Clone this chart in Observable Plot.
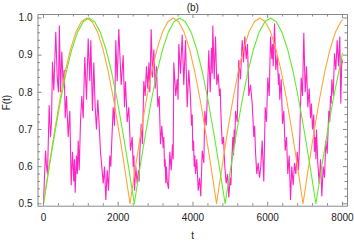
<!DOCTYPE html>
<html>
<head>
<meta charset="utf-8">
<script src="https://cdn.jsdelivr.net/npm/d3@7"></script>
<script src="https://cdn.jsdelivr.net/npm/@observablehq/plot@0.6"></script>
<style>
  html, body { margin: 0; padding: 0; background: #fff; }
  svg { display: block; }
</style>
</head>
<body>
<div id="chart"></div>
<script>
// ---- data ----
const magT = [0,54,80,107,153,187,214,241,276,329,367,401,425,455,490,527,555,581,615,661,704,741,776,811,830,848,883,905,929,955,990,1025,1062,1105,1151,1196,1239,1266,1311,1346,1383,1418,1453,1491,1525,1560,1598,1633,1667,1705,1739,1774,1800,1828,1865,1900,1935,1972,2015,2079,2133,2168,2194,2240,2283,2328,2374,2400,2420,2435,2470,2507,2542,2560,2577,2614,2649,2684,2721,2756,2791,2820,2845,2882,2917,2952,2989,3024,3059,3096,3131,3166,3203,3220,3238,3255,3273,3290,3310,3345,3380,3417,3452,3470,3487,3540,3578,3600,3621,3666,3712,3754,3800,3845,3888,3934,3960,3980,3995,4015,4033,4050,4068,4102,4140,4175,4209,4247,4290,4317,4354,4389,4423,4461,4496,4515,4531,4568,4603,4638,4675,4710,4730,4744,4782,4817,4852,4889,4924,4959,4996,5015,5031,5066,5085,5103,5120,5138,5183,5226,5272,5317,5352,5387,5424,5459,5494,5539,5585,5628,5650,5673,5708,5745,5780,5815,5852,5895,5933,5967,6002,6040,6075,6109,6130,6147,6182,6216,6254,6289,6305,6323,6361,6396,6431,6468,6503,6537,6575,6610,6644,6682,6717,6752,6789,6824,6859,6896,6931,6966,7003,7038,7073,7110,7145,7170,7198,7233,7250,7271,7290,7306,7340,7378,7413,7447,7485,7520,7554,7592,7635,7660,7680,7700,7715,7753,7787,7822,7859,7894,7929,7956,7983,8000];
const magF = [0.50,0.643,0.603,0.58,0.765,0.68,0.72,0.882,0.805,0.963,0.84,0.80,0.98,0.80,0.91,0.82,0.86,0.73,0.79,0.68,0.75,0.55,0.64,0.56,0.62,0.53,0.63,0.58,0.67,0.59,0.72,0.79,0.73,0.895,0.78,0.945,0.83,0.94,0.75,0.88,0.76,0.70,0.78,0.71,0.64,0.60,0.555,0.60,0.51,0.59,0.535,0.63,0.60,0.67,0.76,0.71,0.94,0.83,0.97,0.82,0.90,0.76,0.83,0.72,0.76,0.643,0.68,0.60,0.63,0.535,0.60,0.555,0.59,0.56,0.635,0.715,0.66,0.83,0.79,0.87,0.81,0.88,0.80,0.97,0.84,0.915,0.81,0.87,0.76,0.79,0.66,0.71,0.65,0.68,0.60,0.62,0.555,0.60,0.56,0.54,0.64,0.59,0.66,0.62,0.88,0.79,0.835,0.78,0.93,0.85,0.955,0.82,0.94,0.76,0.86,0.785,0.71,0.74,0.643,0.67,0.60,0.63,0.58,0.62,0.535,0.57,0.52,0.643,0.61,0.75,0.71,0.80,0.913,0.80,0.92,0.85,0.98,0.835,0.95,0.82,0.85,0.79,0.81,0.75,0.66,0.68,0.60,0.555,0.58,0.517,0.57,0.55,0.60,0.68,0.63,0.70,0.66,0.75,0.72,0.887,0.835,0.94,0.88,0.95,0.89,0.93,0.79,0.82,0.77,0.68,0.71,0.64,0.58,0.61,0.57,0.60,0.67,0.56,0.76,0.72,0.84,0.79,0.95,0.89,0.93,0.87,0.985,0.86,0.90,0.82,0.85,0.78,0.835,0.715,0.75,0.643,0.68,0.58,0.63,0.51,0.60,0.55,0.61,0.58,0.64,0.59,0.68,0.84,0.79,0.96,0.80,0.87,0.76,0.81,0.73,0.77,0.70,0.74,0.64,0.68,0.62,0.70,0.61,0.555,0.62,0.52,0.60,0.57,0.67,0.635,0.75,0.72,0.79,0.77,0.835,0.79,0.905,0.86,0.94,0.87,0.95,0.77,0.89,0.88];

const orangeT = [0,145,289,434,579,723,868,1013,1158,1302,1447,1592,1736,1881,2026,2170,
  2315,2460,2604,2749,2894,3038,3183,3328,3473,3617,3762,3907,4051,4196,4341,4485,
  4630,4775,4919,5064,5209,5353,5498,5643,5788,5932,6077,6222,6366,6511,6656,6800,
  6945,7090,7234,7379,7524,7668,7813,7958,8000];
const orangeF = [0.5,0.598,0.691,0.778,0.854,0.916,0.962,0.990,1.0,0.990,0.962,0.916,0.854,0.778,0.691,0.598,
  0.5,0.598,0.691,0.778,0.854,0.916,0.962,0.990,1.0,0.990,0.962,0.916,0.854,0.778,0.691,0.598,
  0.5,0.598,0.691,0.778,0.854,0.916,0.962,0.990,1.0,0.990,0.962,0.916,0.854,0.778,0.691,0.598,
  0.5,0.598,0.691,0.778,0.854,0.916,0.962,0.990,0.995];

const greenT = [0,152,304,456,608,759,911,1063,1215,1367,1519,1671,1823,1974,2126,2278,
  2430,2582,2734,2886,3038,3189,3341,3493,3645,3797,3949,4101,4253,4404,4556,4708,
  4860,5012,5164,5316,5468,5619,5771,5923,6075,6227,6379,6531,6683,6834,6986,7138,
  7290,7442,7594,7746,7898,8000];
const greenF = [0.5,0.598,0.691,0.778,0.854,0.916,0.962,0.990,1.0,0.990,0.962,0.916,0.854,0.778,0.691,0.598,
  0.5,0.598,0.691,0.778,0.854,0.916,0.962,0.990,1.0,0.990,0.962,0.916,0.854,0.778,0.691,0.598,
  0.5,0.598,0.691,0.778,0.854,0.916,0.962,0.990,1.0,0.990,0.962,0.916,0.854,0.778,0.691,0.598,
  0.5,0.598,0.691,0.778,0.854,0.905];

const xTicks = [0, 2000, 4000, 6000, 8000];
const yTicks = [0.5, 0.6, 0.7, 0.8, 0.9, 1.0];
const xMinor = [400,800,1200,1600,2400,2800,3200,3600,4400,4800,5200,5600,6400,6800,7200,7600];
const yMinor = [0.52,0.54,0.56,0.58,0.62,0.64,0.66,0.68,0.72,0.74,0.76,0.78,0.82,0.84,0.86,0.88,0.92,0.94,0.96,0.98];
const titleText = "(b)";
const xLabel = "t";
const yLabel = "F(t)";

// ---- layout ----
const W = 354, H = 241;
const mL = 37.5, mR = 7, mT = 14, mB = 35.3;
const innerW = W - mL - mR, innerH = H - mT - mB;
const major = 4, minor = 2.5;
const frameColor = "#8a8a8a";

const mag = magT.map((t, i) => ({t, F: magF[i]}));
const orange = orangeT.map((t, i) => ({t, F: orangeF[i]}));
const green = greenT.map((t, i) => ({t, F: greenF[i]}));

const chart = Plot.plot({
  width: W, height: H,
  marginLeft: mL, marginRight: mR, marginTop: mT, marginBottom: mB,
  x: {domain: [-147, 8135]},
  y: {domain: [0.4935, 1.0094]},
  style: {fontFamily: "'Liberation Sans', Arial, sans-serif", fontSize: "10px", background: "#fff", overflow: "visible"},
  marks: [
    Plot.line(mag, {x: "t", y: "F", stroke: "#ff24c4", strokeWidth: 1.1, strokeLinejoin: "miter"}),
    Plot.line(orange, {x: "t", y: "F", stroke: "#ffa53a", strokeWidth: 1.1}),
    Plot.line(green, {x: "t", y: "F", stroke: "#62ec2e", strokeWidth: 1.1}),
    Plot.frame({stroke: frameColor, strokeWidth: 1}),
    // inward ticks: bottom / top
    Plot.tickX(xTicks, {x: d => d, insetTop: innerH - major, stroke: frameColor}),
    Plot.tickX(xTicks, {x: d => d, insetBottom: innerH - major, stroke: frameColor}),
    Plot.tickX(xMinor, {x: d => d, insetTop: innerH - minor, stroke: frameColor}),
    Plot.tickX(xMinor, {x: d => d, insetBottom: innerH - minor, stroke: frameColor}),
    // inward ticks: left / right
    Plot.tickY(yTicks, {y: d => d, insetRight: innerW - major, stroke: frameColor}),
    Plot.tickY(yTicks, {y: d => d, insetLeft: innerW - major, stroke: frameColor}),
    Plot.tickY(yMinor, {y: d => d, insetRight: innerW - minor, stroke: frameColor}),
    Plot.tickY(yMinor, {y: d => d, insetLeft: innerW - minor, stroke: frameColor}),
    Plot.axisX(xTicks, {tickSize: 0, tickPadding: 7.5, tickFormat: d => String(d), label: null, fill: "#222"}),
    Plot.axisY(yTicks, {tickSize: 0, tickPadding: 5.5, tickFormat: d3.format(".1f"), label: null, fill: "#222"}),
    Plot.text([titleText], {frameAnchor: "top", text: d => d, lineAnchor: "bottom", dy: -4, fill: "#222", fontSize: 10}),
    Plot.text([xLabel], {frameAnchor: "bottom", text: d => d, lineAnchor: "bottom", dy: 33, fill: "#222", fontSize: 10}),
    Plot.text([yLabel], {frameAnchor: "left", text: d => d, rotate: -90, lineAnchor: "bottom", dx: -28.5, fill: "#222", fontSize: 10})
  ]
});
document.getElementById("chart").appendChild(chart);
</script>
</body>
</html>
